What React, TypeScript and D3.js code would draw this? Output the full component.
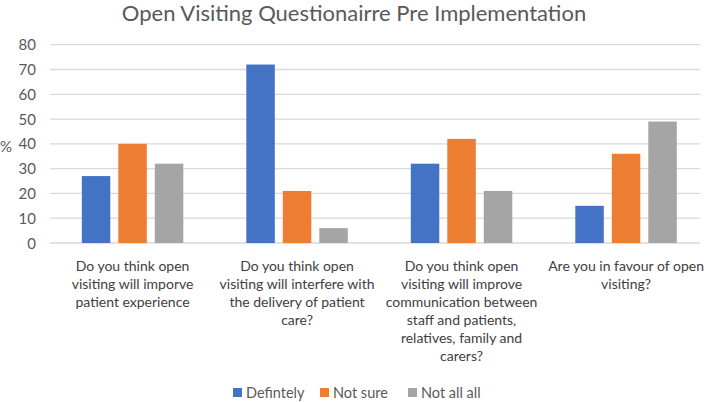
import React from "react";
import * as d3 from "d3";

const categories = [
  ["Do you think open", "visiting will imporve", "patient experience"],
  ["Do you think open", "visiting will interfere with", "the delivery of patient", "care?"],
  ["Do you think open", "visiting will improve", "communication between", "staff and patients,", "relatives, family and", "carers?"],
  ["Are you in favour of open", "visiting?"],
];
const seriesNames = ["Defintely", "Not sure", "Not all all"];
const definitely = [27, 72, 32, 15];
const notSure = [40, 21, 42, 36];
const notAtAll = [32, 6, 21, 49];
const yTicks = [0, 10, 20, 30, 40, 50, 60, 70, 80];
const colors = ["#4472C4", "#ED7D31", "#A5A5A5"];

export default function App() {
  const W = 709, H = 402;
  const font = "Lato, 'Open Sans', sans-serif";
  const series = [definitely, notSure, notAtAll];
  const x = d3.scaleBand<number>().domain(d3.range(categories.length)).range([50.3, 708.3]).paddingInner(0).paddingOuter(0);
  const y = d3.scaleLinear().domain([0, 80]).range([243, 44.7]);
  const barW = 28.5, gap = 8;
  const groupW = barW * 3 + gap * 2;
  return (
    <svg width={W} height={H} style={{ position: "absolute", left: 0, top: 0, background: "#fff" }}>
      <rect width={W} height={H} fill="#fff" />
      <text x={354} y={21} textAnchor="middle" fontFamily={font} fontSize={22} fill="#595959">
        Open Visiting Questionairre Pre Implementation
      </text>
      {yTicks.map((t) => (
        <g key={t}>
          <line x1={50} x2={700} y1={y(t)} y2={y(t)} stroke="#D9D9D9" strokeWidth={1.3} />
          <text x={36} y={y(t) + 5.5} textAnchor="end" fontFamily={font} fontSize={15} fill="#595959">{t}</text>
        </g>
      ))}
      <text x={0} y={152} fontFamily={font} fontSize={15} fill="#595959">%</text>
      {categories.map((c, i) => {
        const cx = (x(i) as number) + x.bandwidth() / 2;
        return (
          <g key={i}>
            {series.map((s, j) => (
              <rect key={j} x={cx - groupW / 2 + j * (barW + gap)} y={y(s[i])} width={barW} height={y(0) - y(s[i])} fill={colors[j]} />
            ))}
            {c.map((line, k) => (
              <text key={k} x={cx} y={270.5 + k * 18.1} textAnchor="middle" fontFamily={font} fontSize={14} fill="#404040">{line}</text>
            ))}
          </g>
        );
      })}
      {seriesNames.map((n, j) => {
        const lx = [233, 320, 408][j];
        return (
          <g key={n}>
            <rect x={lx} y={388} width={9} height={9} fill={colors[j]} />
            <text x={lx + 13} y={397.5} fontFamily={font} fontSize={14.5} fill="#595959">{n}</text>
          </g>
        );
      })}
    </svg>
  );
}
